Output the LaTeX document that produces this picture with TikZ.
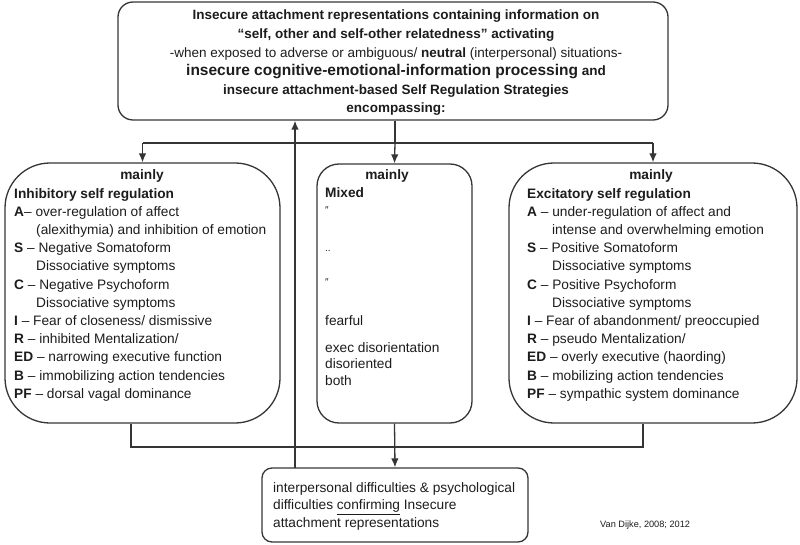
\documentclass[tikz,border=0pt]{standalone}
\usepackage{fontspec}
\setmainfont{Liberation Sans}
\usetikzlibrary{arrows.meta}

\definecolor{linegray}{HTML}{353535}
\definecolor{inkblack}{HTML}{1C1C1C}

\tikzset{
  box/.style={draw=linegray, line width=1.3pt},
  body/.style={font=\fontsize{13.7}{18.2}\selectfont, align=left, inner sep=0pt, anchor=north west, text=inkblack},
  head/.style={font=\fontsize{13.7}{16}\selectfont\bfseries, inner sep=0pt, anchor=base, text=inkblack},
  link/.style={draw=linegray, line width=1.3pt},
  tip/.style={-{Latex[length=9pt,width=7.5pt]}},
}

\begin{document}
\begin{tikzpicture}[x=1pt,y=-1pt]
\useasboundingbox (0,0) rectangle (800,545);

% boxes
\node[box, rounded corners=15pt, minimum width=550pt, minimum height=118pt] (top) at (393,61) {};
\node[box, rounded corners=45pt, minimum width=275pt, minimum height=260pt] (inh) at (142.5,293) {};
\node[box, rounded corners=22pt, minimum width=155pt, minimum height=259pt] (mix) at (394.5,293.5) {};
\node[box, rounded corners=45pt, minimum width=288pt, minimum height=260pt] (exc) at (653,293) {};
\node[box, rounded corners=10pt, minimum width=266pt, minimum height=74pt] (bot) at (395,505) {};

% top text
\node[font=\fontsize{13.5}{18.6}\selectfont, align=center, inner sep=0pt, text=inkblack] (toptext) at (396,63)
  {\textbf{Insecure attachment representations containing information on}\\
   \textbf{“self, other and self-other relatedness” activating}\\
   -when exposed to adverse or ambiguous/ \textbf{neutral} (interpersonal) situations-\\
   {\fontsize{15.5}{18.6}\selectfont\bfseries insecure cognitive-emotional-information processing} \textbf{and}\\
   \textbf{insecure attachment-based Self Regulation Strategies}\\
   \textbf{encompassing:}};

% left column
\node[head] (inhhead) at (142,180) {mainly};
\node[body] (inhtext) at (14,188)
  {\textbf{Inhibitory self regulation}\\
   \textbf{A}-- over-regulation of affect\\
   \hspace*{22pt}(alexithymia) and inhibition of emotion\\
   \textbf{S} -- Negative Somatoform\\
   \hspace*{22pt}Dissociative symptoms\\
   \textbf{C} -- Negative Psychoform\\
   \hspace*{22pt}Dissociative symptoms\\
   \textbf{I} -- Fear of closeness/ dismissive\\
   \textbf{R} -- inhibited Mentalization/\\
   \textbf{ED} -- narrowing executive function\\
   \textbf{B} -- immobilizing action tendencies\\
   \textbf{PF} -- dorsal vagal dominance};

% middle column
\node[head] (mixhead) at (387,180) {mainly};
\foreach \y/\t [count=\i] in {198/\textbf{Mixed}, 214/{\fontsize{10}{10}\selectfont ″}, 252/{\fontsize{10}{10}\selectfont ..}, 286/{\fontsize{10}{10}\selectfont ″}, 325/fearful,
    352/exec disorientation, 368.5/disoriented, 385/both}
  \node[body, anchor=base west] (mix\i) at (325,\y) {\t};

% right column
\node[head] (exchead) at (651,180) {mainly};
\node[body] (exctext) at (527,188)
  {\textbf{Excitatory self regulation}\\
   \textbf{A} -- under-regulation of affect and\\
   \hspace*{25pt}intense and overwhelming emotion\\
   \textbf{S} -- Positive Somatoform\\
   \hspace*{25pt}Dissociative symptoms\\
   \textbf{C} -- Positive Psychoform\\
   \hspace*{25pt}Dissociative symptoms\\
   \textbf{I} -- Fear of abandonment/ preoccupied\\
   \textbf{R} -- pseudo Mentalization/\\
   \textbf{ED} -- overly executive (haording)\\
   \textbf{B} -- mobilizing action tendencies\\
   \textbf{PF} -- sympathic system dominance};

% bottom text
\node[body, font=\fontsize{13.7}{17.5}\selectfont] (bottext) at (273,482)
  {interpersonal difficulties \& psychological\\
   difficulties \underline{confirming} Insecure\\
   attachment representations};

\node[font=\fontsize{9.2}{11}\selectfont, anchor=west, inner sep=0pt, text=inkblack] (source) at (600,525) {Van Dijke, 2008; 2012};

% connectors
\coordinate (split) at (395,143);
\coordinate (joinl) at (131,447);
\coordinate (joinr) at (643,447);
\coordinate (back) at (295,468);

\draw[link] (top.south -| split) -- (split);
\draw[link] (inh.north |- split) -- (exc.north |- split);
\draw[link,tip] (inh.north |- split) -- (inh.north);
\draw[link,tip] (split) -- (mix.north);
\draw[link,tip] (exc.north |- split) -- (exc.north);

\draw[link] (joinl |- inh.south) -- (joinl) -- (joinr) -- (joinr |- exc.south);
\draw[link,tip] (mix.south) -- (bot.north);
\draw[link,tip] (back) -- (back |- top.south);

\end{tikzpicture}
\end{document}
